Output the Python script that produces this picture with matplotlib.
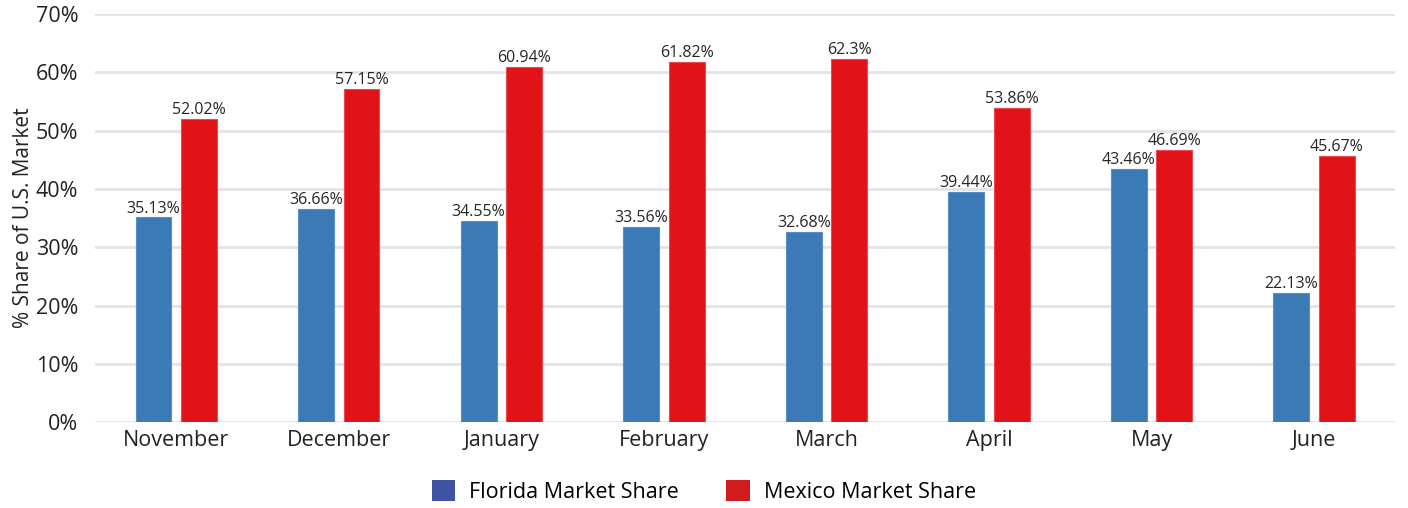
import numpy as np
import matplotlib.pyplot as plt
from matplotlib.patches import Patch

plt.rcParams["font.family"] = ["Open Sans", "DejaVu Sans"]

months = ["November", "December", "January", "February", "March", "April", "May", "June"]
florida = [35.13, 36.66, 34.55, 33.56, 32.68, 39.44, 43.46, 22.13]
mexico = [52.02, 57.15, 60.94, 61.82, 62.3, 53.86, 46.69, 45.67]
florida_lbl = ["35.13%", "36.66%", "34.55%", "33.56%", "32.68%", "39.44%", "43.46%", "22.13%"]
mexico_lbl = ["52.02%", "57.15%", "60.94%", "61.82%", "62.3%", "53.86%", "46.69%", "45.67%"]

blue = "#3b7ab7"
red = "#e11218"

fig = plt.figure(figsize=(14.08, 5.08), dpi=100)
ax = fig.add_axes([0.0675, 0.169, 0.9235, 0.803])

x = np.arange(len(months))
w = 0.22
off = 0.14
b1 = ax.bar(x - off, florida, w, color=blue, edgecolor="#5a8fc6", linewidth=0.8, zorder=3)
b2 = ax.bar(x + off, mexico, w, color=red, edgecolor="#ea4a4f", linewidth=0.8, zorder=3)

for bars, lbls in ((b1, florida_lbl), (b2, mexico_lbl)):
    for r, t in zip(bars, lbls):
        ax.text(r.get_x() + r.get_width() / 2, r.get_height() + 0.15, t,
                ha="center", va="bottom", fontsize=11.5, color="#262626", zorder=4)

ax.set_xlim(-0.5, len(months) - 0.5)
ax.set_ylim(0, 70)
ax.set_yticks(range(0, 71, 10))
ax.set_yticklabels([f"{v}%" for v in range(0, 71, 10)])
ax.set_xticks(x)
ax.set_xticklabels(months)
ax.tick_params(axis="both", length=0, labelsize=15.5, colors="#222222")
ax.tick_params(axis="x", pad=6)
ax.tick_params(axis="y", pad=12)
ax.grid(axis="y", color="#e4e4e4", linewidth=2, zorder=0)
for s in ax.spines.values():
    s.set_visible(False)
ax.set_ylabel("% Share of U.S. Market", fontsize=15, color="#222222", labelpad=1)

handles = [Patch(facecolor="#3f52a3", label="Florida Market Share"),
           Patch(facecolor="#d01c1e", label="Mexico Market Share")]
fig.legend(handles=handles, loc="center", bbox_to_anchor=(0.5, 0.033), ncol=2,
           frameon=False, fontsize=15.5, handlelength=1.1, handleheight=1.1,
           handletextpad=0.65, columnspacing=2.2)

fig.savefig("out.png", dpi=100)
